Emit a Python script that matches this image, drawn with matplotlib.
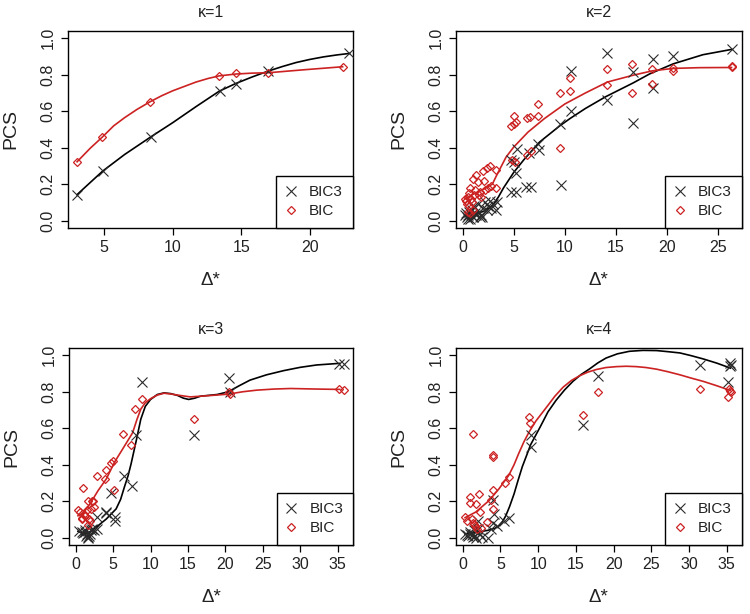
import matplotlib
matplotlib.use("Agg")
import matplotlib.pyplot as plt

plt.rcParams['font.family'] = ['Liberation Sans', 'DejaVu Sans']

# ---- kappa = 1 ----
k1_bic3_x = [3.03, 4.9, 8.4, 13.44, 14.65, 16.96, 22.9]
k1_bic3_y = [0.143, 0.272, 0.459, 0.71, 0.752, 0.82, 0.917]
k1_bic_x = [3.03, 4.88, 8.33, 13.39, 14.6, 16.96, 22.4]
k1_bic_y = [0.323, 0.459, 0.651, 0.794, 0.811, 0.811, 0.844]
k1_fit3_x = [3.03, 4.0, 4.9, 6.5, 8.4, 10, 11.7, 13.4, 14.6, 15.8, 16.96, 18, 19, 20, 21, 22, 22.9]
k1_fit3_y = [0.143, 0.21, 0.272, 0.363, 0.459, 0.537, 0.625, 0.71, 0.752, 0.788, 0.82, 0.845,
             0.867, 0.884, 0.898, 0.909, 0.917]
k1_fit_x = [3.03, 4.0, 4.88, 5.7, 6.5, 7.4, 8.33, 9.2, 10, 11.7, 12.6, 13.4, 14.6, 15.8, 16.96,
            19.5, 22.4]
k1_fit_y = [0.323, 0.398, 0.459, 0.52, 0.565, 0.61, 0.651, 0.685, 0.712, 0.76, 0.78, 0.794,
            0.804, 0.809, 0.811, 0.827, 0.844]

# ---- kappa = 2 ----
k2_bic3_x = [0.2, 0.3, 0.4, 0.5, 0.6, 0.7, 0.8, 0.9, 1.0, 1.1, 1.2, 1.3, 1.5, 1.6, 1.7,
             1.8, 2.0, 2.2, 2.4, 2.5, 2.7, 2.8, 3.0, 3.3, 3.4, 1.9, 0.5,
             4.7, 4.7, 5.2, 5.2, 5.3, 5.0, 6.2, 6.7, 6.5, 7.4, 7.5, 9.5, 9.6,
             10.6, 10.6, 14.15, 14.15, 16.7, 16.7, 18.6, 18.6, 20.6, 26.3]
k2_bic3_y = [0.03, 0.04, 0.02, 0.03, 0.05, 0.01, 0.03, 0.06, 0.02, 0.08, 0.04, 0.03, 0.09, 0.05, 0.02,
             0.03, 0.07, 0.10, 0.06, 0.08, 0.11, 0.07, 0.09, 0.06, 0.10, 0.02, 0.01,
             0.33, 0.156, 0.156, 0.26, 0.394, 0.32, 0.183, 0.187, 0.37, 0.422, 0.39, 0.532, 0.193,
             0.82, 0.60, 0.917, 0.664, 0.817, 0.538, 0.886, 0.725, 0.903, 0.939]
k2_bic_x = [0.2, 0.3, 0.4, 0.5, 0.6, 0.7, 0.8, 0.9, 1.0, 1.1, 1.2, 1.3, 1.5, 1.6, 1.7,
            1.8, 2.0, 2.1, 2.2, 2.4, 2.5, 2.7, 2.8, 3.3, 3.3, 0.5, 0.7, 1.0, 0.6,
            4.7, 4.8, 5.0, 5.0, 5.1, 5.2, 6.3, 6.3, 6.7, 6.6, 7.4, 7.4, 9.5, 9.5,
            10.5, 10.5, 14.1, 14.1, 16.6, 16.6, 18.5, 18.5, 20.6, 20.6, 26.3, 26.3]
k2_bic_y = [0.12, 0.11, 0.09, 0.13, 0.15, 0.18, 0.12, 0.10, 0.23, 0.14, 0.17, 0.25, 0.21, 0.14, 0.16,
            0.13, 0.27, 0.22, 0.17, 0.29, 0.18, 0.30, 0.19, 0.28, 0.18, 0.05, 0.04, 0.06, 0.08,
            0.52, 0.33, 0.53, 0.575, 0.32, 0.54, 0.565, 0.36, 0.38, 0.57, 0.64, 0.575, 0.70, 0.40,
            0.785, 0.712, 0.829, 0.743, 0.859, 0.70, 0.829, 0.749, 0.82, 0.835, 0.848, 0.842]
k2_fit3_x = [0.2, 1, 2, 2.6, 3, 3.5, 4, 5, 6, 7.5, 9.5, 10.5, 12, 14, 16.7, 18.3, 20.6, 23.5, 26.3]
k2_fit3_y = [0.03, 0.035, 0.05, 0.07, 0.09, 0.13, 0.18, 0.265, 0.335, 0.43, 0.52, 0.56, 0.615,
             0.68, 0.756, 0.805, 0.86, 0.91, 0.939]
k2_fit_x = [0.2, 1.1, 2.1, 2.9, 3.4, 4.25, 5.0, 6.4, 8, 10, 12, 14.15, 16.7, 18.6, 20.6, 23.2, 26.3]
k2_fit_y = [0.119, 0.147, 0.174, 0.2, 0.257, 0.349, 0.404, 0.486, 0.56, 0.64, 0.70, 0.76,
            0.798, 0.822, 0.835, 0.839, 0.84]

# ---- kappa = 3 ----
k3_bic3_x = [0.5, 0.8, 1.0, 1.2, 1.4, 1.6, 1.7, 1.8, 1.9, 2.0, 2.2, 2.5, 2.8, 1.5, 1.3,
             2.9, 4.1, 4.1, 4.76, 5.2, 5.2, 6.44, 7.5, 8.0, 8.9, 15.8, 20.5, 20.6, 35.2, 35.8]
k3_bic3_y = [0.035, 0.03, 0.025, 0.03, 0.01, 0.005, 0.0, 0.01, 0.02, 0.04, 0.05, 0.04, 0.05, 0.02, 0.04,
             0.114, 0.134, 0.139, 0.244, 0.112, 0.094, 0.336, 0.286, 0.565, 0.853, 0.565, 0.877,
             0.798, 0.955, 0.95]
k3_bic_x = [0.3, 0.6, 0.8, 0.9, 1.0, 1.1, 1.3, 1.5, 1.6, 1.7, 1.8, 1.9, 2.0, 2.2, 2.3, 2.5,
            2.9, 3.9, 4.1, 4.7, 5.0, 5.1, 6.3, 7.4, 7.9, 8.9, 15.8, 20.5, 20.6, 35.2, 35.8]
k3_bic_y = [0.15, 0.14, 0.10, 0.11, 0.27, 0.13, 0.12, 0.15, 0.20, 0.07, 0.10, 0.09, 0.16, 0.20, 0.20, 0.17,
            0.34, 0.32, 0.37, 0.41, 0.42, 0.26, 0.567, 0.506, 0.705, 0.76, 0.653, 0.80, 0.79,
            0.813, 0.809]
k3_fit3_x = [0.3, 1.1, 2.0, 3.0, 4.1, 5.4, 6.0, 6.5, 7.0, 7.4, 8.1, 8.7, 9.3, 10.0, 10.9, 11.8,
             12.7, 13.6, 14.4, 15.1, 15.9, 16.7, 18.9, 20.4, 21.8, 23.3, 25.5, 27.8, 30, 32.2, 35.3]
k3_fit3_y = [0.035, 0.02, 0.035, 0.066, 0.103, 0.158, 0.21, 0.277, 0.34, 0.405, 0.534, 0.65,
             0.72, 0.758, 0.785, 0.794, 0.79, 0.78, 0.765, 0.758, 0.765, 0.776, 0.785, 0.80,
             0.832, 0.864, 0.893, 0.916, 0.934, 0.947, 0.956]
k3_fit_x = [0.3, 1.0, 1.9, 3.0, 4.1, 5.2, 6.3, 7.6, 8.2, 8.7, 9.3, 10.0, 10.9, 11.8, 12.7, 13.6,
            15.3, 17.5, 20.4, 22.3, 24.2, 26.5, 28.7, 32.2, 35.3]
k3_fit_y = [0.12, 0.135, 0.185, 0.259, 0.323, 0.415, 0.488, 0.575, 0.65, 0.705, 0.74, 0.762,
            0.782, 0.792, 0.788, 0.782, 0.772, 0.778, 0.787, 0.8, 0.809, 0.815, 0.818, 0.815, 0.813]

# ---- kappa = 4 ----
k4_bic3_x = [0.3, 0.5, 0.7, 0.9, 1.0, 1.2, 1.3, 1.4, 1.6, 1.8, 2.0, 2.3, 1.5, 2.0, 2.6, 3.3,
             3.7, 4.0, 4.1, 4.0, 4.6, 5.5, 6.1, 9.1, 9.1, 15.95, 17.9, 31.5, 35.2, 35.4, 35.6, 35.5]
k4_bic3_y = [0.02, 0.015, 0.01, 0.02, 0.03, 0.015, 0.005, 0.02, 0.01, 0.0, 0.05, 0.02, 0.04, 0.09,
             0.005, 0.0, 0.046, 0.08, 0.13, 0.206, 0.066, 0.092, 0.11, 0.563, 0.498, 0.618, 0.884,
             0.949, 0.851, 0.958, 0.949, 0.94]
k4_bic_x = [0.35, 0.5, 0.9, 1.0, 1.3, 1.4, 1.6, 1.8, 2.1, 2.3, 2.35, 1.2, 1.5, 1.9, 3.2, 3.7,
            4.0, 4.0, 4.0, 4.0, 5.6, 6.1, 8.8, 8.9, 15.9, 17.9, 31.5, 35.2, 35.3, 35.5, 35.6]
k4_bic_y = [0.112, 0.09, 0.222, 0.19, 0.568, 0.08, 0.063, 0.186, 0.237, 0.14, 0.055, 0.10, 0.075,
            0.05, 0.085, 0.204, 0.263, 0.158, 0.452, 0.445, 0.30, 0.333, 0.66, 0.63, 0.673, 0.798,
            0.816, 0.77, 0.815, 0.807, 0.80]
k4_fit3_x = [0.3, 1.5, 3.3, 4.3, 4.8, 5.3, 5.7, 6.2, 6.8, 7.3, 7.9, 8.5, 9.0, 10.3, 11.3, 12.4,
             13.5, 14.6, 15.7, 16.8, 17.9, 19.0, 20.5, 22.1, 23.9, 25.7, 27.2, 28.8, 30.3, 31.9,
             33.7, 35.5]
k4_fit3_y = [0.02, 0.028, 0.04, 0.052, 0.066, 0.09, 0.12, 0.17, 0.24, 0.31, 0.39, 0.455, 0.51,
             0.61, 0.69, 0.755, 0.81, 0.857, 0.895, 0.925, 0.958, 0.985, 1.008, 1.022, 1.027,
             1.026, 1.02, 1.013, 0.998, 0.98, 0.957, 0.93]
k4_fit_x = [0.3, 1.7, 3.5, 4.8, 6.1, 6.8, 7.4, 8.1, 8.8, 9.7, 11.1, 12.2, 13.3, 14.4, 15.5,
            16.6, 17.7, 19.0, 20.4, 21.7, 23.0, 24.3, 25.7, 27.2, 28.8, 30.3, 31.9, 33.7, 35.5]
k4_fit_y = [0.11, 0.14, 0.204, 0.268, 0.342, 0.4, 0.46, 0.525, 0.58, 0.64, 0.715, 0.775, 0.825,
            0.862, 0.888, 0.908, 0.922, 0.933, 0.938, 0.94, 0.938, 0.933, 0.924, 0.91, 0.893,
            0.875, 0.857, 0.833, 0.807]

panels = [
    ("κ=1", k1_bic3_x, k1_bic3_y, k1_bic_x, k1_bic_y, k1_fit3_x, k1_fit3_y, k1_fit_x, k1_fit_y,
     (2.37, 23.16), [5, 10, 15, 20]),
    ("κ=2", k2_bic3_x, k2_bic3_y, k2_bic_x, k2_bic_y, k2_fit3_x, k2_fit3_y, k2_fit_x, k2_fit_y,
     (-0.65, 27.3), [0, 5, 10, 15, 20, 25]),
    ("κ=3", k3_bic3_x, k3_bic3_y, k3_bic_x, k3_bic_y, k3_fit3_x, k3_fit3_y, k3_fit_x, k3_fit_y,
     (-0.9, 37.1), [0, 5, 10, 15, 20, 25, 30, 35]),
    ("κ=4", k4_bic3_x, k4_bic3_y, k4_bic_x, k4_bic_y, k4_fit3_x, k4_fit3_y, k4_fit_x, k4_fit_y,
     (-0.9, 37.0), [0, 5, 10, 15, 20, 25, 30, 35]),
]

# axes boxes in figure fractions (left, bottom, width, height)
boxes = [
    (0.0907, 0.6287, 0.380, 0.3208),
    (0.6080, 0.6287, 0.381, 0.3208),
    (0.0920, 0.1124, 0.379, 0.3208),
    (0.6080, 0.1124, 0.381, 0.3208),
]

RED = "#cc2222"
BLACK = "#2a2a2a"
TXT = "#222222"

fig = plt.figure(figsize=(7.5, 6.14), dpi=100)

for box, p in zip(boxes, panels):
    title, bx3, by3, bx, by, fx3, fy3, fx, fy, xlim, xt = p
    ax = fig.add_axes(box)
    ax.plot(fx3, fy3, color="black", lw=1.2, zorder=3)
    ax.plot(fx, fy, color=RED, lw=1.2, zorder=3)
    ax.plot(bx3, by3, linestyle="none", marker="x", markersize=6.5, markeredgewidth=0.8,
            color=BLACK, label="BIC3", zorder=4)
    ax.plot(bx, by, linestyle="none", marker="D", markersize=3.6, markeredgewidth=0.9,
            markerfacecolor="none", markeredgecolor=RED, label="BIC", zorder=4)
    ax.set_xlim(*xlim)
    ax.set_ylim(-0.04, 1.04)
    ax.set_xticks(xt)
    ax.set_yticks([0.0, 0.2, 0.4, 0.6, 0.8, 1.0])
    ax.set_yticklabels(["0.0", "0.2", "0.4", "0.6", "0.8", "1.0"], rotation=90, va="center")
    ax.tick_params(direction="out", length=5, width=0.9, labelsize=11.5, pad=4,
                   labelcolor=TXT)
    for s in ax.spines.values():
        s.set_linewidth(1.0)
    ax.set_title(title, fontsize=11.5, pad=10, color=TXT)
    ax.set_xlabel("Δ*", fontsize=13.5, labelpad=12, color=TXT)
    ax.set_ylabel("PCS", fontsize=14, labelpad=15, color=TXT)
    # legend sits flush in the bottom-right corner like R's legend("bottomright")
    leg = ax.legend(loc="lower right", borderaxespad=0, fancybox=False, framealpha=1,
                    edgecolor="black", fontsize=11, handlelength=0.6, handletextpad=0.9,
                    borderpad=0.65, labelspacing=0.3)
    leg.get_frame().set_linewidth(1.0)
    for t in leg.get_texts():
        t.set_color(TXT)

plt.savefig("out.png", dpi=100)
plt.close()
